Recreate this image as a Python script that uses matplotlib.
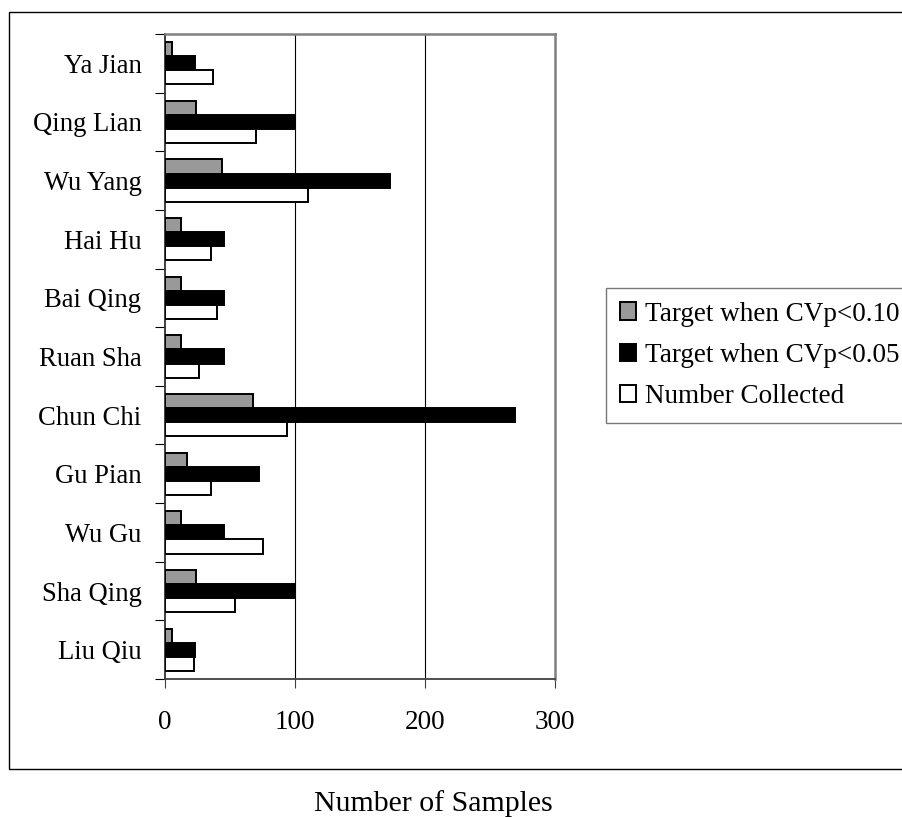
import matplotlib
matplotlib.use("Agg")
import matplotlib.pyplot as plt
import numpy as np
from matplotlib.patches import Rectangle

plt.rcParams['font.family'] = ['Liberation Serif', 'DejaVu Serif']

# sites, listed bottom to top
sites = ['Liu Qiu', 'Sha Qing', 'Wu Gu', 'Gu Pian', 'Chun Chi', 'Ruan Sha',
         'Bai Qing', 'Hai Hu', 'Wu Yang', 'Qing Lian', 'Ya Jian']
target_10 = [5, 24, 12, 17, 68, 12, 12, 12, 44, 24, 5]
target_05 = [23, 100, 45, 72, 269, 45, 45, 45, 173, 100, 23]
collected = [22, 54, 75, 35, 94, 26, 40, 35, 110, 70, 37]
series_names = ['Target when CVp<0.10', 'Target when CVp<0.05', 'Number Collected']

W, H = 902, 817
fig = plt.figure(figsize=(W / 100, H / 100), dpi=100)
ax = fig.add_axes([165 / W, 1 - 679 / H, (555 - 165) / W, (679 - 34) / H])

y = np.arange(len(sites))
h = 0.24
ax.barh(y + h, target_10, height=h, color='#999999', edgecolor='black',
        linewidth=1.4, label=series_names[0], zorder=3)
ax.barh(y, target_05, height=h, color='black', edgecolor='black',
        linewidth=1.4, label=series_names[1], zorder=3)
ax.barh(y - h, collected, height=h, color='white', edgecolor='black',
        linewidth=1.4, label=series_names[2], zorder=3)

ax.set_xlim(0, 300)
ax.set_ylim(-0.5, len(sites) - 0.5)
ax.set_xticks([0, 100, 200, 300])
ax.tick_params(axis='x', direction='out', length=6.5, width=0.8,
               color='#404040', labelsize=19.5, pad=16)

# category boundaries get the tick marks, names sit between them
ax.set_yticks(np.arange(-0.5, len(sites), 1.0))
ax.set_yticklabels([])
ax.set_yticks(y, minor=True)
ax.set_yticklabels(sites, minor=True)
ax.tick_params(axis='y', which='major', direction='out', length=7.5,
               width=0.8, color='black')
ax.tick_params(axis='y', which='minor', length=0, labelsize=19.2, pad=17)

for x in (100, 200):
    ax.axvline(x, color='black', linewidth=0.8, zorder=1)

ax.spines['left'].set_color('#303030')
ax.spines['left'].set_linewidth(1.3)
ax.spines['bottom'].set_color('#404040')
ax.spines['bottom'].set_linewidth(1.3)
for s in ('top', 'right'):
    ax.spines[s].set_color('#808080')
    ax.spines[s].set_linewidth(1.8)

leg = fig.legend(loc='upper left', bbox_to_anchor=(606 / W, 1 - 288 / H),
                 fontsize=19.5, frameon=True, fancybox=False, handlelength=0.6,
                 handleheight=0.6, handletextpad=0.35, borderpad=0.5,
                 labelspacing=0.6, borderaxespad=0)
leg.get_frame().set_edgecolor('#555555')
leg.get_frame().set_linewidth(1.0)

fig.text(433 / W, 1 - 811 / H, 'Number of Samples', ha='center',
         va='baseline', fontsize=21.5)

# outer chart frame
fig.patches.append(Rectangle((9 / W, 1 - 769 / H), 1.2, (769 - 12) / H,
                             transform=fig.transFigure, fill=False,
                             edgecolor='black', linewidth=1.0))

fig.savefig('out.png', dpi=100)
